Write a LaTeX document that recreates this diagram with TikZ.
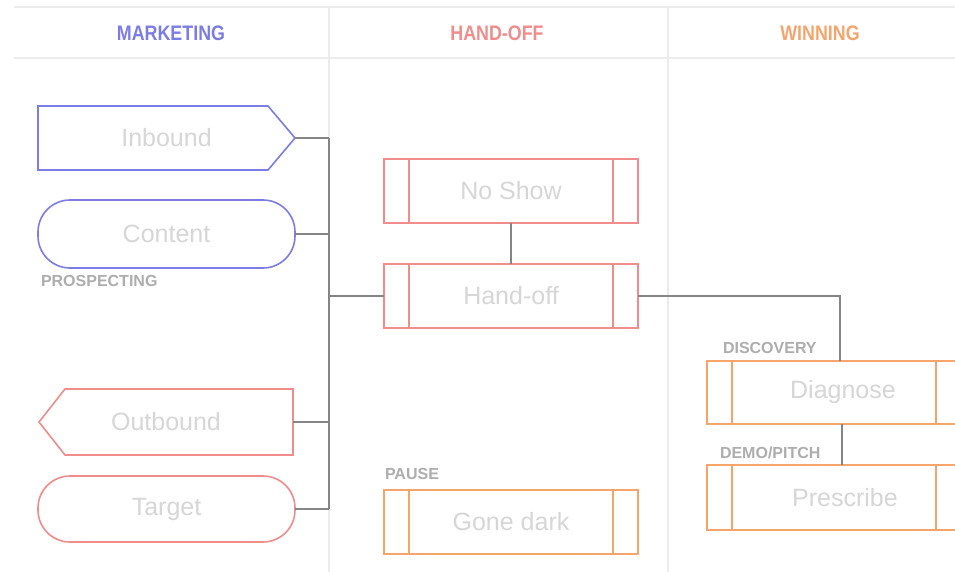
\documentclass[tikz,border=0pt]{standalone}
\usepackage{fontspec}
\setmainfont{Liberation Sans}
\newfontfamily\headfont[FakeStretch=0.85]{Liberation Sans}
\usepackage{xcolor}
\usetikzlibrary{calc,positioning}
\definecolor{mkblue}{HTML}{7C7CE6}
\definecolor{hored}{HTML}{F08C8C}
\definecolor{wnorange}{HTML}{F5A46C}
\definecolor{boxtext}{HTML}{D6D6D6}
\definecolor{labelgray}{HTML}{ADADAD}
\definecolor{rulegray}{HTML}{EBEBEB}
\definecolor{linkgray}{HTML}{858585}

\begin{document}
\begin{tikzpicture}[x=1pt, y=-1pt,
    every node/.style={inner sep=0pt, outer sep=0pt},
    box/.style={line width=1.6pt, fill=white, minimum width=257pt, minimum height=64pt, text=boxtext, font=\fontsize{25}{27}\selectfont},
    pill/.style={box, draw=#1, rounded corners=32pt, minimum height=66pt},
    process/.style={box, draw=#1, minimum width=254pt, path picture={\draw[#1, line width=1.6pt] ([xshift=25pt]path picture bounding box.north west) -- ([xshift=25pt]path picture bounding box.south west) ([xshift=-25pt]path picture bounding box.north east) -- ([xshift=-25pt]path picture bounding box.south east);}},
    stage/.style={anchor=west, text=labelgray, font=\fontsize{16}{18}\selectfont\bfseries},
    head/.style={font=\headfont\fontsize{21}{23}\selectfont\bfseries},
    link/.style={linkgray, line width=1.6pt},
    rule/.style={rulegray, line width=1.5pt}]
\clip (0,0) rectangle (955,572);
\fill[white] (0,0) rectangle (955,572);
\draw[rule] (14,7) -- (955,7); \draw[rule] (14,58) -- (955,58);
\draw[rule] (329,7) -- (329,572); \draw[rule] (668,7) -- (668,572);
\node[head, text=mkblue] (hmarketing) at (171,33) {MARKETING};
\node[head, text=hored] (hhandoff) at (497,33) {HAND-OFF};
\node[head, text=wnorange] (hwinning) at (820,33) {WINNING};
\coordinate (trunktop) at (329,138); \coordinate (trunkbot) at (329,509);
\node[box] (inbound) at (166.5,138) {Inbound};
\draw[mkblue, line width=1.6pt] (inbound.north west) -- ([xshift=-27pt]inbound.north east) -- (inbound.east) -- ([xshift=-27pt]inbound.south east) -- (inbound.south west) -- cycle;
\node[pill=mkblue, minimum height=68pt] (content) at (166.5,234) {Content};
\node[stage] (prospecting) at (41,281) {PROSPECTING};
\node[box, minimum width=254pt, minimum height=66pt] (outbound) at (166,422) {Outbound};
\draw[hored, line width=1.6pt] (outbound.north east) -- ([xshift=26pt]outbound.north west) -- (outbound.west) -- ([xshift=26pt]outbound.south west) -- (outbound.south east) -- cycle;
\node[pill=hored] (target) at (166.5,509) {Target};
\node[process=hored] (noshow) at (511,191) {No Show};
\node[process=hored] (handoff) at (511,296) {Hand-off};
\node[stage] (pause) at (385,474) {PAUSE};
\node[process=wnorange] (gonedark) at (511,522) {Gone dark};
\node[stage] (discovery) at (723,348) {DISCOVERY};
\node[process=wnorange, minimum height=63pt] (diagnose) at (834,392.5) {\hspace*{18pt}Diagnose};
\node[stage] (demopitch) at (720,453) {DEMO/PITCH};
\node[process=wnorange, minimum height=65pt] (prescribe) at (834,497.5) {\hspace*{22pt}Prescribe};
\draw[link] (inbound.east) -- (inbound.east -| trunktop);
\draw[link] (content.east) -- (content.east -| trunktop);
\draw[link] (outbound.east) -- (outbound.east -| trunktop);
\draw[link] (target.east) -- (target.east -| trunktop);
\draw[link] (trunktop) -- (trunkbot);
\draw[link] (handoff.west) -- (handoff.west -| trunktop);
\draw[link] (noshow.south) -- (handoff.north);
\draw[link] (handoff.east) -| ([xshift=6pt]diagnose.north);
\draw[link] ([xshift=8pt]diagnose.south) -- ([xshift=8pt]prescribe.north);
\end{tikzpicture}
\end{document}
